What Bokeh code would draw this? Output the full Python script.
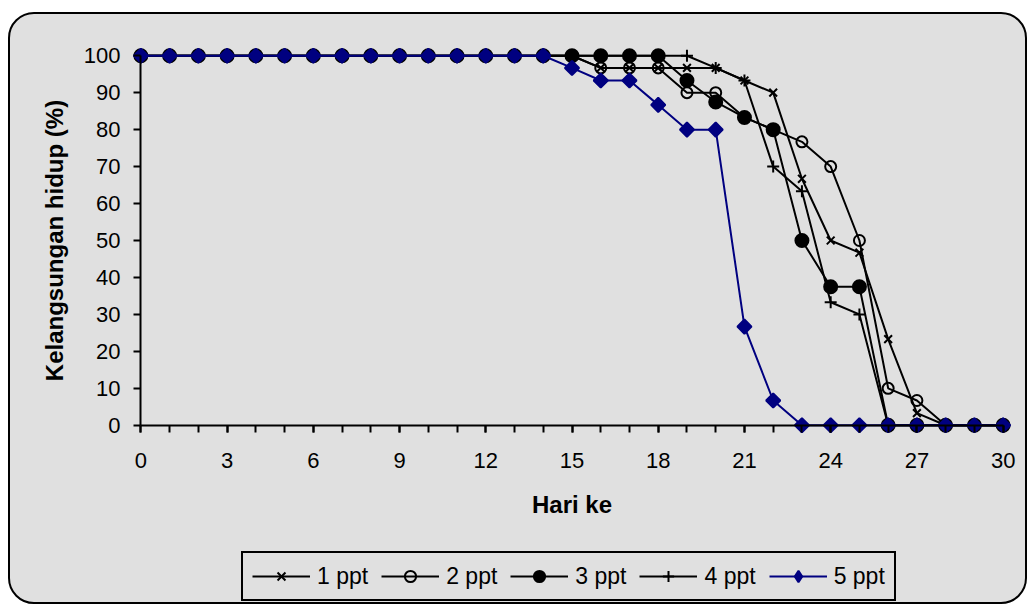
import numpy as np
from bokeh.plotting import figure
from bokeh.layouts import column
from bokeh.models import Range1d, FixedTicker, Legend, LegendItem, LinearAxis
from bokeh.embed import file_html
from bokeh.resources import INLINE

# ---- data ----
days = [0, 1, 2, 3, 4, 5, 6, 7, 8, 9, 10, 11, 12, 13, 14, 15,
        16, 17, 18, 19, 20, 21, 22, 23, 24, 25, 26, 27, 28, 29, 30]
ppt1 = [100, 100, 100, 100, 100, 100, 100, 100, 100, 100, 100, 100, 100, 100, 100, 100,
        96.7, 96.7, 96.7, 96.7, 96.7, 93.3, 90, 66.7, 50, 46.7, 23.3, 3.3, 0, 0, 0]
ppt2 = [100, 100, 100, 100, 100, 100, 100, 100, 100, 100, 100, 100, 100, 100, 100, 100,
        96.7, 96.7, 96.7, 90, 90, 83.3, 80, 76.7, 70, 50, 10, 6.7, 0, 0, 0]
ppt3 = [100, 100, 100, 100, 100, 100, 100, 100, 100, 100, 100, 100, 100, 100, 100, 100,
        100, 100, 100, 93.3, 87.5, 83.3, 80, 50, 37.5, 37.5, 0, 0, 0, 0, 0]
ppt4 = [100, 100, 100, 100, 100, 100, 100, 100, 100, 100, 100, 100, 100, 100, 100, 100,
        100, 100, 100, 100, 96.7, 93.3, 70, 63.3, 33.3, 30, 0, 0, 0, 0, 0]
ppt5 = [100, 100, 100, 100, 100, 100, 100, 100, 100, 100, 100, 100, 100, 100, 100, 96.7,
        93.3, 93.3, 86.7, 80, 80, 26.7, 6.7, 0, 0, 0, 0, 0, 0, 0, 0]
series_names = ["1 ppt", "2 ppt", "3 ppt", "4 ppt", "5 ppt"]
x_major_ticks = [0, 3, 6, 9, 12, 15, 18, 21, 24, 27, 30]
y_ticks = [0, 10, 20, 30, 40, 50, 60, 70, 80, 90, 100]

BG = "#E0E0E0"
FONT = "Liberation Sans"

p = figure(frame_width=891, frame_height=388,
           x_range=Range1d(-0.5, 30.5), y_range=Range1d(-2.5, 102.5),
           output_backend="svg", toolbar_location=None,
           min_border_left=116, min_border_right=8,
           min_border_top=32, min_border_bottom=92)
p.background_fill_alpha = 0
p.border_fill_alpha = 0
p.outline_line_color = None
p.grid.visible = False

# label-only axes at the frame edges
xa = p.xaxis[0]
ya = p.yaxis[0]
xa.ticker = FixedTicker(ticks=x_major_ticks)
ya.ticker = FixedTicker(ticks=y_ticks)
for ax in (xa, ya):
    ax.axis_line_color = None
    ax.major_tick_line_color = None
    ax.minor_tick_line_color = None
    ax.major_tick_in = 0
    ax.major_tick_out = 0
    ax.minor_tick_in = 0
    ax.minor_tick_out = 0
    ax.major_label_text_font = FONT
    ax.major_label_text_font_size = "22px"
    ax.major_label_text_color = "black"
    ax.axis_label_text_font = FONT
    ax.axis_label_text_font_style = "bold"
    ax.axis_label_text_font_size = "24px"
    ax.axis_label_text_color = "black"
xa.axis_label = "Hari ke"
ya.axis_label = "Kelangsungan hidup (%)"
xa.major_label_standoff = 18
ya.major_label_standoff = 6
xa.axis_label_standoff = 20
ya.axis_label_standoff = 13

# line+tick axes drawn through the data origin
def line_axis(ticker, tick_in, tick_out):
    ax = LinearAxis(ticker=ticker, fixed_location=0)
    ax.axis_line_color = "black"
    ax.axis_line_width = 2
    ax.major_tick_line_color = "black"
    ax.major_tick_line_width = 2
    ax.minor_tick_line_color = "black"
    ax.minor_tick_line_width = 2
    ax.major_tick_in = tick_in
    ax.major_tick_out = tick_out
    ax.minor_tick_in = tick_in
    ax.minor_tick_out = tick_out
    ax.major_label_text_font_size = "0px"
    ax.major_label_text_color = None
    ax.major_label_standoff = 0
    return ax

xl = line_axis(FixedTicker(ticks=x_major_ticks, minor_ticks=days), 7, 0)
xl.bounds = (0, 30)
yl = line_axis(FixedTicker(ticks=y_ticks), 0, 7)
yl.bounds = (0, 100)
yl.minor_tick_line_color = None
p.add_layout(xl, "above")
p.add_layout(yl, "left")

series = [ppt1, ppt2, ppt3, ppt4, ppt5]
marker_styles = [
    ("black", "x", 11, dict(fill_alpha=0)),
    ("black", "circle", 11, dict(fill_alpha=0)),
    ("black", "circle", 13, dict(fill_color="black")),
    ("black", "cross", 12, dict(fill_alpha=0)),
    ("#000080", "square", 10, dict(fill_color="#000080")),
]

def add_series(fig, xs, ys, col, mk, sz, extra, in_legend=False):
    lr = fig.line(xs, ys, line_color=col, line_width=2)
    kw = dict(marker=mk, size=sz, line_color=col, line_width=2, **extra)
    if mk == "square":
        if in_legend:
            # legend glyphs ignore the rotation, so use a diamond there
            kw["marker"] = "diamond"
            kw["size"] = 15
        else:
            kw["angle"] = np.pi / 4
    mr = fig.scatter(xs, ys, **kw)
    return lr, mr

for vals, (col, mk, sz, extra) in zip(series, marker_styles):
    add_series(p, days, vals, col, mk, sz, extra)

# legend strip below the chart (its series sit outside its visible range,
# so only the legend itself shows)
q = figure(width=1015, height=76, x_range=Range1d(1000, 1001), y_range=Range1d(1000, 1001),
           x_axis_location=None, y_axis_location=None,
           output_backend="svg", toolbar_location=None, min_border=0)
q.background_fill_alpha = 0
q.border_fill_alpha = 0
q.outline_line_color = None
q.grid.visible = False

items = []
for name, vals, (col, mk, sz, extra) in zip(series_names, series, marker_styles):
    lr, mr = add_series(q, days, vals, col, mk, sz, extra, in_legend=True)
    items.append(LegendItem(label=name, renderers=[lr, mr]))

legend = Legend(items=items, orientation="horizontal",
                location=(115, 1),
                border_line_color="black", border_line_width=2,
                border_line_alpha=1.0,
                background_fill_alpha=0,
                label_text_font=FONT, label_text_font_size="23px",
                label_text_color="black",
                glyph_width=58, glyph_height=28, label_height=28,
                label_standoff=7, spacing=13, padding=9, margin=0)
q.add_layout(legend, "center")

layout = column(p, q, spacing=0)
layout.styles = {"margin-left": "8px", "margin-top": "12px",
                 "border": "2px solid black", "border-radius": "26px",
                 "background-color": BG}

open("out.html", "w").write(file_html(layout, INLINE))
